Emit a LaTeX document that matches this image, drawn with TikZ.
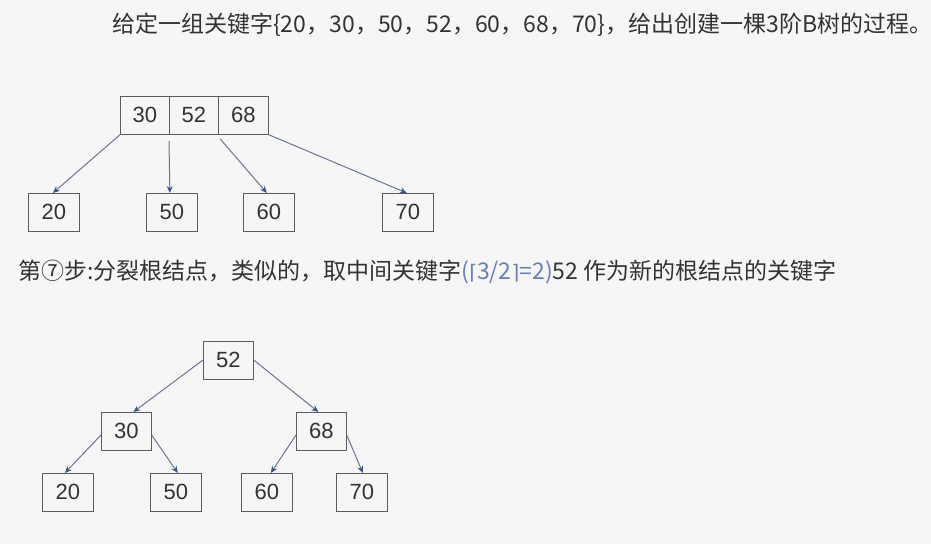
\documentclass[tikz,border=0pt]{standalone}
\usepackage{fontspec}
\setmainfont{Liberation Sans}
\newfontfamily\cjk{Noto Sans CJK SC}
\newfontfamily\dvs{DejaVu Sans}
\usetikzlibrary{arrows.meta}
\definecolor{bg}{HTML}{F6F6F6}
\definecolor{txt}{HTML}{333333}
\definecolor{edge}{HTML}{6A7590}
\definecolor{tip}{HTML}{3F5488}
\definecolor{hl}{HTML}{6A7FB0}
\newcommand{\capfont}{\cjk\fontsize{23}{23}\selectfont}
\begin{document}
\begin{tikzpicture}[x=1pt,y=-1pt,
  keybox/.style={draw=txt!80,line width=0.7pt,minimum width=50pt,minimum height=38pt,inner sep=0pt,text=txt,font=\fontsize{22}{22}\selectfont,anchor=north west},
  link/.style={draw=edge,line width=1pt,-{Stealth[length=7pt,width=6pt,color=tip]}},
  caption/.style={anchor=west,text=txt,inner sep=0pt,font=\capfont}]
\fill[bg] (0,0) rectangle (931,544);
\useasboundingbox (0,0) rectangle (931,544);
\node[caption] (t1) at (112,25) {给定一组关键字\{20，30，50，52，60，68，70\}，给出创建一棵3阶B树的过程。};
% top tree
\node[keybox,minimum width=49pt] (r1) at (120,96) {30};
\node[keybox,minimum width=49pt] (r2) at (169,96) {52};
\node[keybox,minimum width=50pt] (r3) at (218,96) {68};
\node[keybox,minimum width=51pt] (a20) at (28,193) {20};
\node[keybox,minimum width=51pt] (a50) at (146,193) {50};
\node[keybox,minimum width=51pt] (a60) at (243,193) {60};
\node[keybox,minimum width=51pt] (a70) at (382,193) {70};
\draw[link] (r1.south west) -- ([xshift=-1pt]a20.north);
\draw[link] ([xshift=0pt,yshift=-6pt]r2.south west) -- ([xshift=-2pt]a50.north);
\draw[link] ([xshift=2pt,yshift=-4pt]r3.south west) -- ([xshift=-2pt]a60.north);
\draw[link] (r3.south east) -- ([xshift=-1pt]a70.north);
% caption 2
\node[caption] (t2) at (18,272) {第⑦步:分裂根结点，类似的，取中间关键字\textcolor{hl}{({\dvs\fontsize{20}{20}\selectfont ⌈}3/2{\dvs\fontsize{20}{20}\selectfont ⌉}=2)}52 作为新的根结点的关键字};
% bottom tree
\node[keybox] (b52) at (203,341) {52};
\node[keybox] (b30) at (101,412) {30};
\node[keybox] (b68) at (296,412) {68};
\node[keybox,minimum width=51pt] (b20) at (42,473) {20};
\node[keybox,minimum width=51pt] (b50) at (150,473) {50};
\node[keybox,minimum width=51pt] (b60) at (241,473) {60};
\node[keybox,minimum width=51pt] (b70) at (336,473) {70};
\draw[link] ([yshift=-19pt]b52.north west) -- ([xshift=7pt]b30.north);
\draw[link] ([yshift=-19pt]b52.north east) -- ([xshift=-3pt]b68.north);
\draw[link] ([yshift=-23pt]b30.north west) -- ([xshift=-3pt]b20.north);
\draw[link] ([yshift=-23pt]b30.north east) -- ([xshift=2pt]b50.north);
\draw[link] ([yshift=-23pt]b68.north west) -- ([xshift=4pt]b60.north);
\draw[link] ([yshift=-23pt]b68.north east) -- ([xshift=1pt]b70.north);
\end{tikzpicture}
\end{document}
